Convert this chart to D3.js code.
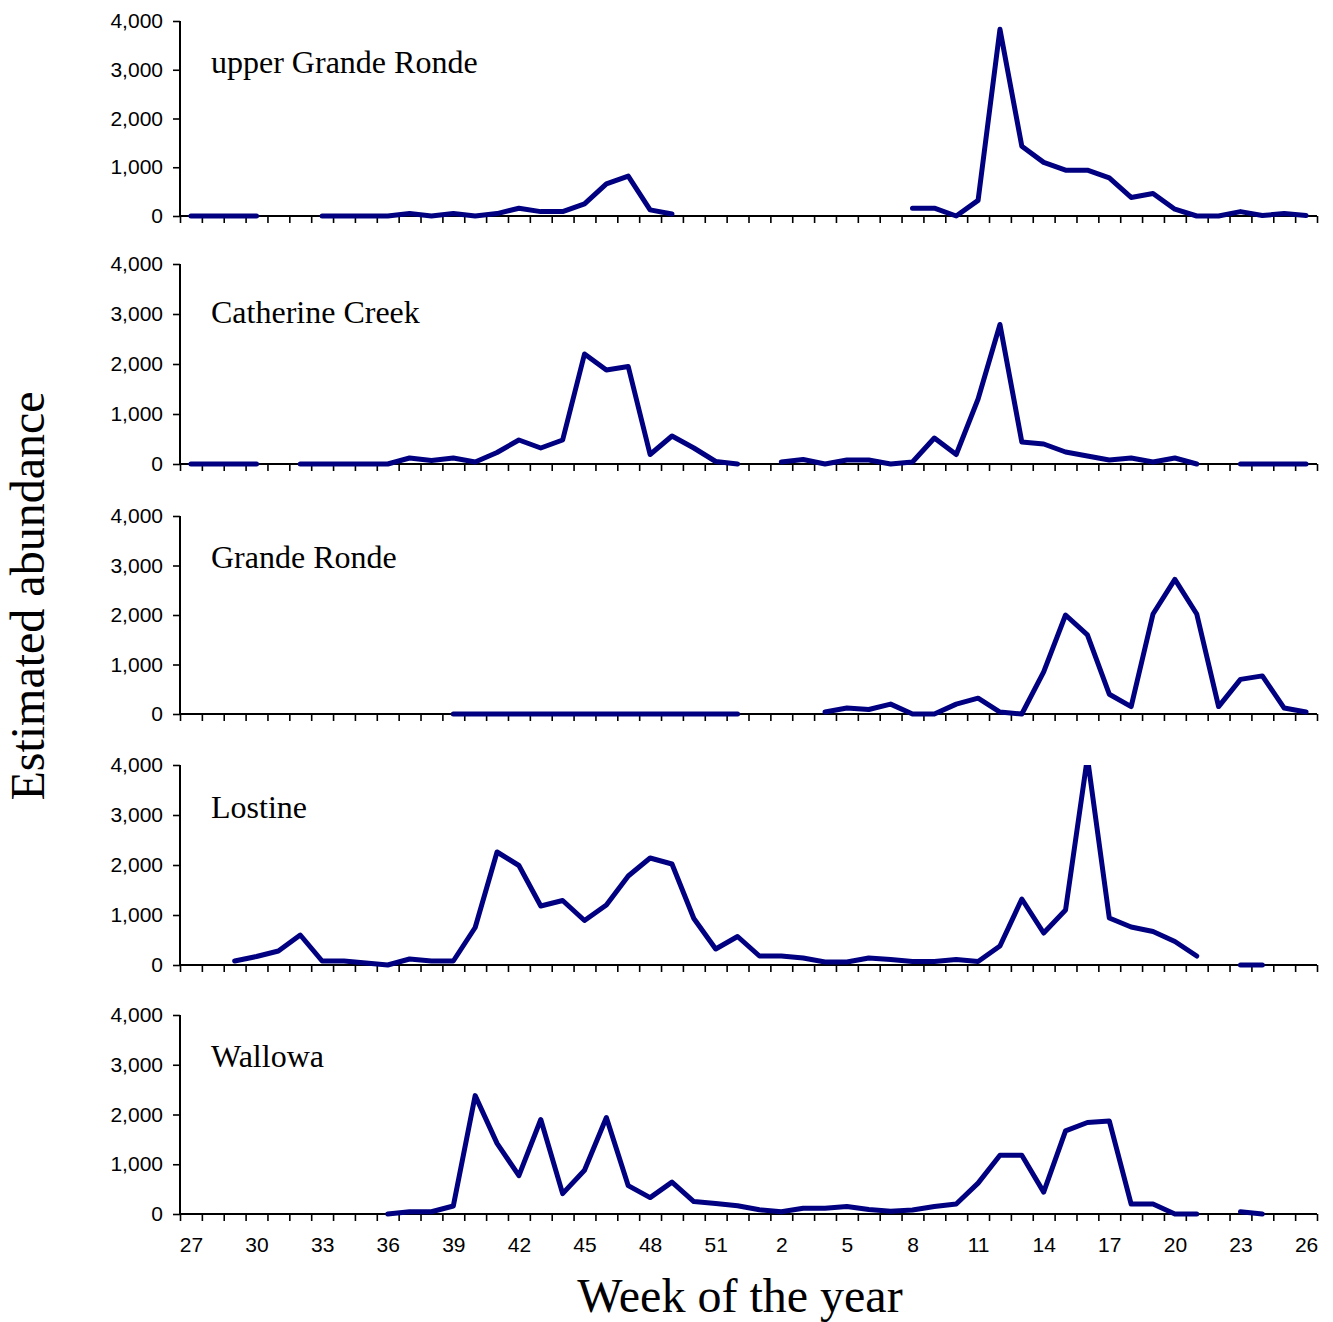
<!DOCTYPE html>
<html>
<head>
<meta charset="utf-8">
<script src="https://cdn.jsdelivr.net/npm/d3@7"></script>
<style>
	html, body { margin: 0; padding: 0; background: #fff; }
	svg { display: block; }
</style>
</head>
<body>
<div id="chart"></div>
<script>

// weeks of the year, July to June
var weeks = [27,28,29,30,31,32,33,34,35,36,37,38,39,40,41,42,43,44,45,46,47,48,49,50,51,52,
	1,2,3,4,5,6,7,8,9,10,11,12,13,14,15,16,17,18,19,20,21,22,23,24,25,26];

var weekLabels = [27,30,33,36,39,42,45,48,51,2,5,8,11,14,17,20,23,26];

var yTicks = [0, 1000, 2000, 3000, 4000];

var siteNames = ["upper Grande Ronde", "Catherine Creek", "Grande Ronde", "Lostine", "Wallowa"];

// estimated abundance per week (null = no trapping)
var upperGrandeRonde = [0,0,0,0,null,null,0,0,0,0,50,0,50,0,50,160,90,90,250,660,820,125,40,null,null,null,
	null,null,null,null,null,null,null,160,160,0,320,3830,1430,1100,940,940,780,380,460,140,0,0,90,10,50,10];

var catherineCreek = [0,0,0,0,null,0,0,0,0,0,120,70,120,40,230,480,320,480,2200,1880,1950,190,560,320,50,0,
	null,40,90,0,80,80,0,40,520,190,1300,2790,440,400,240,160,80,120,40,120,0,null,0,0,0,0];

var grandeRonde = [null,null,null,null,null,null,null,null,null,null,null,null,0,0,0,0,0,0,0,0,0,0,0,0,0,0,
	null,null,null,40,120,90,200,0,0,200,320,40,0,850,2000,1600,400,150,2020,2720,2020,150,700,770,120,40];

var lostine = [null,null,80,170,280,600,80,80,40,0,120,80,80,750,2260,1990,1180,1290,890,1200,1780,2140,2020,930,320,570,
	180,180,140,60,60,140,110,70,70,110,70,380,1320,640,1100,4150,940,760,670,470,180,null,0,0,null,null];

var wallowa = [null,null,null,null,null,null,null,null,null,0,45,45,160,2380,1420,770,1900,410,880,1940,570,330,640,250,210,165,
	85,45,115,115,150,90,55,80,150,200,620,1180,1180,440,1670,1840,1870,200,200,0,0,null,45,0,null,null];

var series = [upperGrandeRonde, catherineCreek, grandeRonde, lostine, wallowa];

var
	width = 1333,
	height = 1322,
	left = 180,
	right = 1317,
	panelTop = [21, 264, 516, 765, 1015],
	panelBottom = [216, 464, 714, 965, 1214],
	titleOffset = [52, 59, 52, 53, 52],
	lineColor = "#000080",

	svg = d3.select("#chart")
		.append("svg")
		.attr("width", width)
		.attr("height", height),

	// category index -> boundary position
	xEdge = d3.scaleLinear()
		.domain([0, weeks.length])
		.range([left, right]),

	x = d3.scalePoint()
		.domain(weeks)
		.range([left, right])
		.padding(0.5);

series.forEach(function(values, k){
	var
		y = d3.scaleLinear()
			.domain([0, 4000])
			.range([panelBottom[k], panelTop[k]]),

		g = svg.append("g"),

		line = d3.line()
			.defined(d => d.v != null)
			.x(d => x(d.w))
			.y(d => y(d.v)),

		pts = weeks.map((w, i) => ({w: w, v: values[i]}));

	// plot area clip (values above 4,000 are cut off)
	svg.append("clipPath")
		.attr("id", "clip" + k)
		.append("rect")
		.attr("x", 0)
		.attr("y", panelTop[k])
		.attr("width", width)
		.attr("height", panelBottom[k] - panelTop[k] + 20);

	// y axis
	var yAxis = g.append("g")
		.attr("transform", "translate(" + left + ",0)")
		.call(d3.axisLeft(y).tickValues(yTicks).tickSize(7).tickPadding(10)
			.tickFormat(d3.format(",")));
	yAxis.select(".domain").attr("d", "M0," + panelTop[k] + "V" + panelBottom[k]);

	// x axis: ticks between weeks
	var xAxis = g.append("g")
		.attr("transform", "translate(0," + panelBottom[k] + ")")
		.call(d3.axisBottom(xEdge).tickValues(d3.range(weeks.length + 1)).tickSize(7).tickFormat(""));
	xAxis.select(".domain").attr("d", "M" + left + ",0H" + right);

	if (k == series.length - 1){
		g.append("g")
			.attr("class", "xlabels")
			.attr("transform", "translate(0," + panelBottom[k] + ")")
			.call(d3.axisBottom(x).tickValues(weekLabels).tickSize(0).tickPadding(23))
			.select(".domain").remove();
	}

	g.selectAll(".domain").attr("stroke", "#000").attr("stroke-width", 2);
	g.selectAll(".tick line").attr("stroke", "#000").attr("stroke-width", 1.6);
	g.selectAll(".tick text")
		.attr("fill", "#000")
		.style("font-family", "'Liberation Sans', Arial, sans-serif")
		.style("font-size", "21px");

	g.append("path")
		.datum(pts)
		.attr("clip-path", "url(#clip" + k + ")")
		.attr("fill", "none")
		.attr("stroke", lineColor)
		.attr("stroke-width", 5)
		.attr("stroke-linejoin", "round")
		.attr("stroke-linecap", "round")
		.attr("d", line);

	g.append("text")
		.attr("x", 211)
		.attr("y", panelTop[k] + titleOffset[k])
		.style("font-family", "'Liberation Serif', 'Times New Roman', serif")
		.style("font-size", "32px")
		.text(siteNames[k]);
});

svg.append("text")
	.attr("transform", "translate(44,596) rotate(-90)")
	.attr("text-anchor", "middle")
	.style("font-family", "'Liberation Serif', 'Times New Roman', serif")
	.style("font-size", "48px")
	.text("Estimated abundance");

svg.append("text")
	.attr("x", 740)
	.attr("y", 1312)
	.attr("text-anchor", "middle")
	.style("font-family", "'Liberation Serif', 'Times New Roman', serif")
	.style("font-size", "48px")
	.text("Week of the year");

</script>
</body>
</html>
